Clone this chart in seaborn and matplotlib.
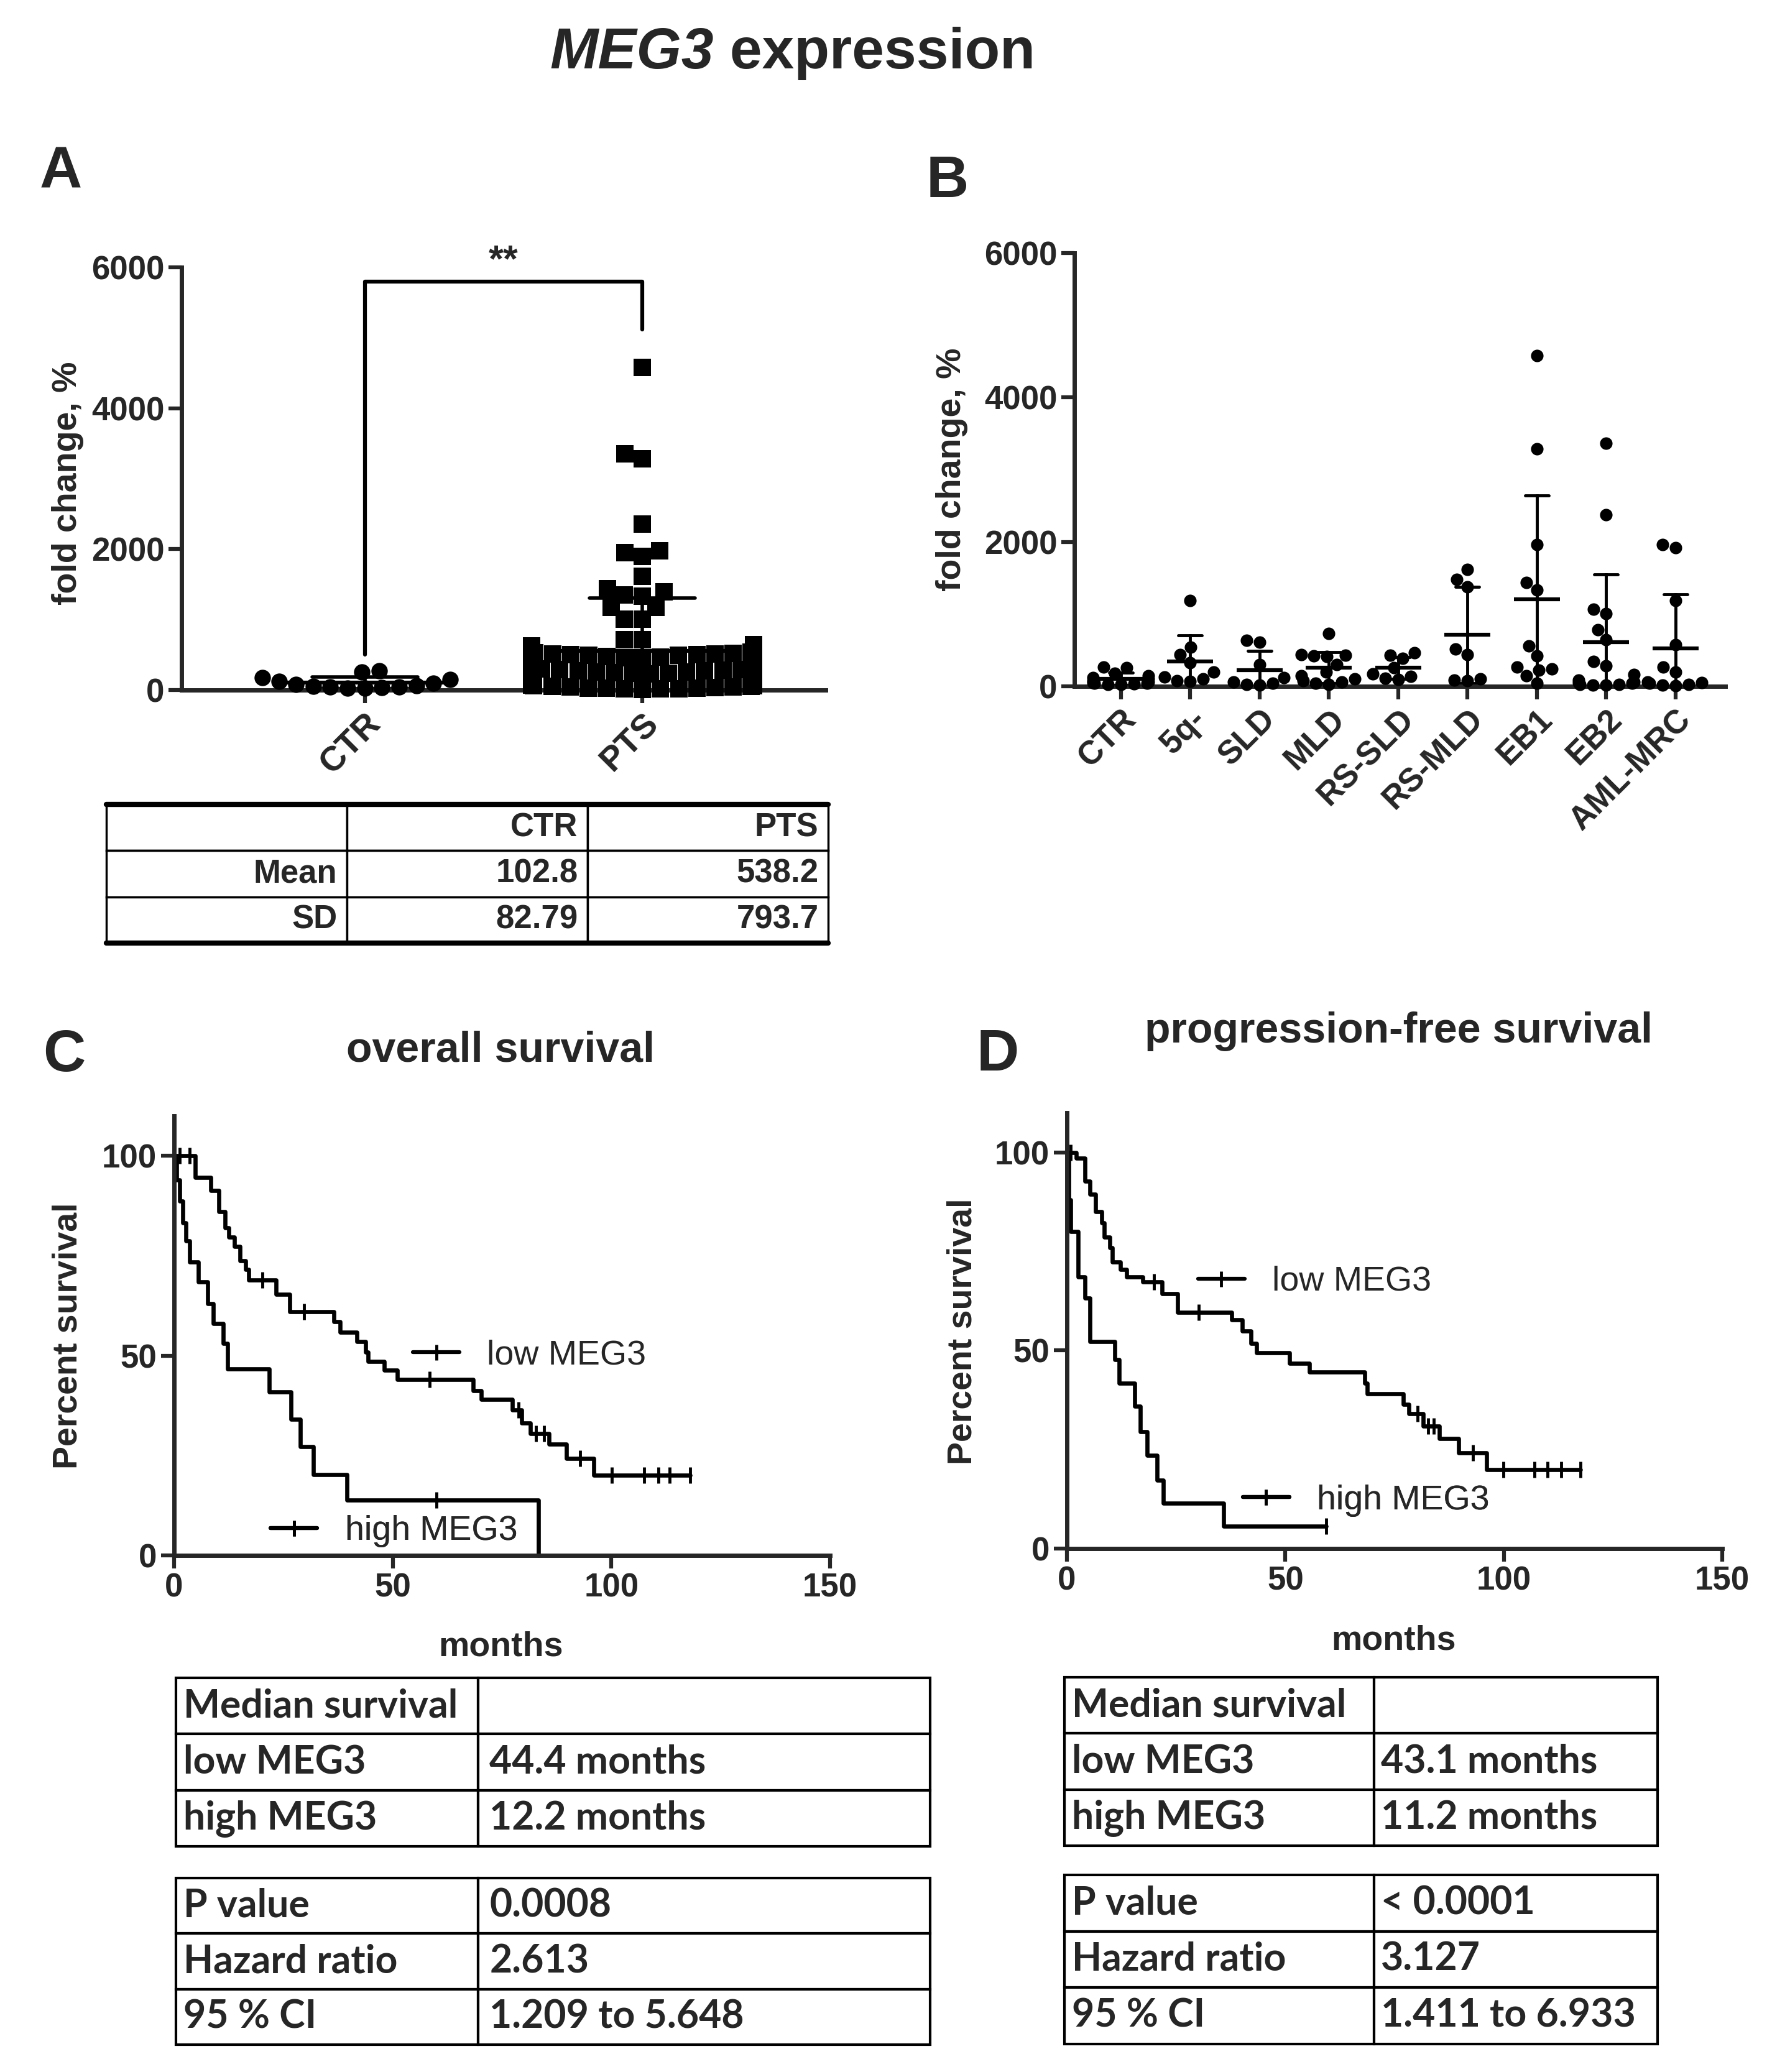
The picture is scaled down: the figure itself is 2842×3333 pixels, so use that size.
import warnings
import numpy as np
import pandas as pd
import matplotlib
matplotlib.use("Agg")
import matplotlib.pyplot as plt
from matplotlib.lines import Line2D
from matplotlib.text import Annotation
import seaborn as sns

warnings.filterwarnings("ignore")

# ---------------- panel A: CTR vs PTS ----------------
a_groups = ["CTR", "PTS"]
ctr_values = [270, 255, 180, 150, 120, 100, 80, 60, 50, 40, 30, 25, 45, 35]
pts_high = [4580, 3350, 3280, 2360, 1975, 1947, 1895, 1614, 1439, 1395, 1351, 1333,
            1175, 1175, 1009, 1009, 719, 719]
pts_mid = [640, 630, 615, 600, 590, 580, 570, 560, 550, 545, 540, 530, 520, 515, 510,
           505, 500, 495, 490, 480, 470, 460, 450, 430, 410]
pts_low = [330, 320, 310, 300, 295, 290, 280, 275, 270, 260, 255, 250, 240, 235, 230,
           220, 215, 210, 200, 195, 190, 180, 175, 170, 160, 155, 150, 140, 135, 130,
           120, 115, 110, 100, 95, 90, 85, 80, 75, 70, 65, 60, 55, 50, 45, 40, 35, 30,
           28, 25, 22, 20, 15, 10]
bracket_x = [0, 0, 1, 1]
bracket_y = [500, 5800, 5800, 5120]
a_table = [["", "CTR", "PTS"],
           ["Mean", "102.8", "538.2"],
           ["SD", "82.79", "793.7"]]

# ---------------- panel B: subgroups ----------------
b_groups = ["CTR", "5q-", "SLD", "MLD", "RS-SLD", "RS-MLD", "EB1", "EB2", "AML-MRC"]
b_5q = [1191, 540, 440, 330, 200, 130, 100, 70, 75]
b_sld = [640, 610, 300, 120, 60, 40, 30, 20]
b_mld = [730, 440, 430, 420, 410, 300, 200, 150, 100, 80, 60, 40, 30]
b_rs_sld = [465, 430, 390, 260, 170, 140, 110, 95]
b_rs_mld = [1615, 1480, 1380, 520, 440, 100, 90, 80]
b_eb1 = [4580, 3290, 1966, 1440, 1330, 560, 420, 270, 240, 220, 40, 150]
b_eb2 = [3362, 2376, 1065, 1007, 781, 649, 342, 283, 160, 90, 60, 50, 40, 30, 25, 20, 15]
b_aml = [1966, 1923, 1191, 580, 270, 200, 60, 50, 40, 30, 20, 10]

# ---------------- panel C: overall survival ----------------
os_low_time = [0, 4.8, 8.4, 10.2, 11.6, 12.5, 13.8, 15.1, 16.3, 17.0, 23.3, 26.5, 36.5,
               38.0, 41.8, 43.8, 44.4, 48.0, 51.0, 68.4, 70.2, 77.3, 79.5, 81.4, 85.8,
               89.7, 96.0, 118.0]
os_low_surv = [100, 94.6, 91.4, 86.0, 82.0, 79.7, 77.4, 73.8, 71.6, 68.9, 65.3, 61.0, 58.5,
               55.8, 53.5, 50.8, 48.6, 46.3, 44.0, 41.3, 39.1, 36.4, 33.2, 30.5, 27.8,
               24.2, 20.1, 20.1]
os_low_cens = [1.3, 3.6, 20.2, 29.7, 58.4, 78.8, 82.7, 84.6, 92.9, 100.1, 107.5, 110.7,
               113.3, 118.0]
os_high_time = [0, 0.6, 1.3, 2.0, 2.7, 3.6, 5.5, 7.7, 8.9, 11.2, 12.2, 21.7, 26.8, 28.8,
                31.9, 39.5, 83.3]
os_high_surv = [100, 94.0, 88.7, 83.3, 78.8, 73.4, 68.4, 63.0, 58.0, 53.0, 46.7, 40.9,
                34.1, 27.3, 20.3, 13.8, 0]
os_high_cens = [60.0]
os_table1 = [["Median survival", ""], ["low MEG3", "44.4 months"], ["high MEG3", "12.2 months"]]
os_table2 = [["P value", "0.0008"], ["Hazard ratio", "2.613"], ["95 % CI", "1.209 to 5.648"]]

# ---------------- panel D: progression-free survival ----------------
pfs_low_time = [0, 2.2, 4.1, 5.3, 6.6, 7.9, 8.5, 9.8, 10.4, 12.3, 13.6, 17.4, 21.8, 25.3,
                37.7, 40.2, 42.1, 43.4, 51.0, 55.5, 68.1, 68.8, 77.0, 78.3, 81.5, 85.3,
                89.7, 96.1, 117.6]
pfs_low_surv = [100, 98.6, 92.7, 89.5, 85.0, 82.3, 78.6, 75.9, 72.3, 70.4, 68.6, 67.3, 64.3,
                59.7, 57.7, 55.0, 51.8, 49.5, 46.8, 44.5, 41.8, 39.1, 36.4, 34.1, 30.9,
                27.7, 24.1, 20.0, 20.0]
pfs_low_cens = [0.9, 19.9, 30.1, 80.2, 82.7, 84.0, 92.9, 99.9, 107.0, 110.0, 113.2, 117.6]
pfs_high_time = [0, 0.4, 0.9, 2.5, 4.1, 5.3, 11.0, 11.9, 15.5, 16.8, 18.3, 20.6, 22.1, 35.8,
                 59.3]
pfs_high_surv = [100, 88.0, 80.0, 68.6, 63.2, 52.3, 47.7, 41.8, 35.9, 29.5, 23.6, 17.3,
                 11.4, 5.7, 5.7]
pfs_high_cens = [59.3]
pfs_table1 = [["Median survival", ""], ["low MEG3", "43.1 months"], ["high MEG3", "11.2 months"]]
pfs_table2 = [["P value", "< 0.0001"], ["Hazard ratio", "3.127"], ["95 % CI", "1.411 to 6.933"]]

# ---------------- style ----------------
sns.set_style("ticks")
plt.rcParams["font.family"] = ["Liberation Sans", "DejaVu Sans"]
plt.rcParams["font.weight"] = "bold"
plt.rcParams["axes.labelweight"] = "bold"

W, H = 2842, 3333
fig = plt.figure(figsize=(W / 100, H / 100), dpi=100)


def px_rect(x0, y0, x1, y1):
    # pixel box (top-left origin) -> figure fraction rect
    return [x0 / W, 1 - y1 / H, (x1 - x0) / W, (y1 - y0) / H]


def style_axis(ax, tick_size=38):
    sns.despine(ax=ax)
    for s in ["left", "bottom"]:
        ax.spines[s].set_linewidth(5)
    ax.tick_params(width=4.5, length=15, labelsize=tick_size, pad=5)


# ---------------- A ----------------
dfA = pd.DataFrame({"group": ["CTR"] * len(ctr_values) + ["PTS"] * (len(pts_high) + len(pts_mid) + len(pts_low)),
                    "value": ctr_values + pts_high + pts_mid + pts_low})
axA = fig.add_axes(px_rect(292, 430, 1328, 1110))
sns.swarmplot(data=dfA[dfA.group == "CTR"], x="group", y="value", order=a_groups, marker="o",
              size=19, color="black", clip_on=False, ax=axA)
sns.swarmplot(data=dfA[dfA.group == "PTS"], x="group", y="value", order=a_groups, marker="s",
              size=20, color="black", clip_on=False, ax=axA)
sns.pointplot(data=dfA, x="group", y="value", order=a_groups, errorbar="sd", color="black",
              linestyle="none", marker="_", markersize=210, markeredgewidth=4.5, capsize=0.38,
              err_kws={"linewidth": 4}, ax=axA)
axA.plot(bracket_x, bracket_y, color="black", linewidth=4.5)
axA.text(0.5, 5830, "**", ha="center", va="bottom", fontsize=44)
axA.set_xlim(-0.66, 1.66)
axA.set_ylim(0, 6000)
axA.set_yticks([0, 2000, 4000, 6000])
axA.set_xlabel("")
axA.set_ylabel("fold change, %", fontsize=40)
axA.yaxis.set_label_coords(-0.152, 0.49)
style_axis(axA)
axA.tick_params(axis="x", labelsize=40)
plt.setp(axA.get_xticklabels(), rotation=45, ha="right", rotation_mode="anchor")

# ---------------- B ----------------
b_lists = [ctr_values, b_5q, b_sld, b_mld, b_rs_sld, b_rs_mld, b_eb1, b_eb2, b_aml]
dfB = pd.DataFrame({"group": np.repeat(b_groups, [len(v) for v in b_lists]),
                    "value": np.concatenate(b_lists)})
axB = fig.add_axes(px_rect(1728, 407, 2775, 1104))
sns.swarmplot(data=dfB, x="group", y="value", order=b_groups, marker="o", size=14.5,
              color="black", clip_on=False, ax=axB)
sns.pointplot(data=dfB, x="group", y="value", order=b_groups, errorbar="sd", color="black",
              linestyle="none", marker="_", markersize=53, markeredgewidth=4.5, capsize=0.34,
              err_kws={"linewidth": 3.5}, ax=axB)
axB.set_xlim(-0.67, 8.72)
axB.set_ylim(0, 6000)
axB.set_yticks([0, 2000, 4000, 6000])
axB.set_xlabel("")
axB.set_ylabel("fold change, %", fontsize=40)
axB.yaxis.set_label_coords(-0.163, 0.50)
style_axis(axB)
plt.setp(axB.get_xticklabels(), rotation=45, ha="right", rotation_mode="anchor")


# ---------------- C / D ----------------
def censor_y(times, surv, cens):
    idx = np.searchsorted(times, cens, side="right") - 1
    return np.asarray(surv)[idx]


def km_panel(rect, curves, legends):
    ax = fig.add_axes(rect)
    for t, s, c in curves:
        sns.lineplot(x=t, y=s, drawstyle="steps-post", estimator=None, color="black",
                     linewidth=4.8, clip_on=False, ax=ax)
        sns.scatterplot(x=c, y=censor_y(t, s, c), marker="|", s=330, linewidth=3.5,
                        color="black", clip_on=False, zorder=3, ax=ax)
    ax.set_xlim(0, 150)
    ax.set_ylim(0, 110)
    ax.set_xticks([0, 50, 100, 150])
    ax.set_yticks([0, 50, 100])
    ax.set_xlabel("months", fontsize=40)
    ax.set_ylabel("Percent survival", fontsize=40)
    style_axis(ax)
    for label, (lx, ly) in legends:
        h = Line2D([], [], color="black", linewidth=4.5, marker="|", markersize=18,
                   markeredgewidth=3.5)
        leg = ax.legend([h], [label], loc="center left", bbox_to_anchor=(lx, ly),
                        frameon=False, borderpad=0, borderaxespad=0, handlelength=1.35,
                        handletextpad=0.8, prop={"size": 40, "weight": "normal"})
        ax.add_artist(leg)
    return ax


axC = km_panel(px_rect(280, 1795, 1335, 2502),
               [(os_low_time, os_low_surv, os_low_cens), (os_high_time, os_high_surv, os_high_cens)],
               [("low MEG3", (0.364, 0.455)), ("high MEG3", (0.147, 0.055))])
axC.yaxis.set_label_coords(-0.137, 0.5)
axC.xaxis.set_label_coords(0.498, -0.172)

axD = km_panel(px_rect(1716, 1790, 2770, 2491),
               [(pfs_low_time, pfs_low_surv, pfs_low_cens), (pfs_high_time, pfs_high_surv, pfs_high_cens)],
               [("low MEG3", (0.200, 0.612)), ("high MEG3", (0.2685, 0.110))])
axD.yaxis.set_label_coords(-0.134, 0.498)
axD.xaxis.set_label_coords(0.499, -0.175)


# ---------------- tables ----------------
def draw_table(rect, rows, widths, loc, family, size, pad, lw=2.5, thick=None):
    tax = fig.add_axes(rect)
    tax.axis("off")
    tb = tax.table(cellText=rows, colWidths=widths, cellLoc=loc, bbox=[0, 0, 1, 1])
    tb.auto_set_font_size(False)
    for cell in tb.get_celld().values():
        cell.set_linewidth(lw)
        cell.PAD = pad
        cell.get_text().set_fontsize(size)
        cell.get_text().set_fontweight("bold")
        cell.get_text().set_fontfamily(family)
    if thick:
        tax.axhline(1, color="black", linewidth=thick, clip_on=False)
        tax.axhline(0, color="black", linewidth=thick, clip_on=False)
    return tax


draw_table(px_rect(171, 1294, 1332, 1517), a_table, [1 / 3] * 3, "right",
           ["Liberation Sans", "DejaVu Sans"], 38, 0.04, lw=2.5, thick=6)
cal = ["Lato", "Open Sans", "DejaVu Sans"]
draw_table(px_rect(283, 2699, 1496, 2970), os_table1, [0.4007, 0.5993], "left", cal, 45, 0.025, lw=3)
draw_table(px_rect(283, 3021, 1496, 3289), os_table2, [0.4007, 0.5993], "left", cal, 45, 0.025, lw=3)
draw_table(px_rect(1712, 2698, 2666, 2969), pfs_table1, [0.522, 0.478], "left", cal, 45, 0.025, lw=3)
draw_table(px_rect(1712, 3016, 2666, 3288), pfs_table2, [0.522, 0.478], "left", cal, 45, 0.025, lw=3)

# ---------------- titles & panel letters ----------------
t1 = fig.text(884 / W, 1 - 110 / H, "MEG3", fontsize=67, fontweight="bold", style="italic",
              ha="left", va="baseline")
fig.add_artist(Annotation(" expression", xy=(1, 0), xycoords=t1, ha="left", va="bottom",
                          fontsize=67, fontweight="bold"))
for letter, lx, ly in [("A", 64, 303), ("B", 1490, 317), ("C", 69, 1723), ("D", 1571, 1722)]:
    fig.text(lx / W, 1 - ly / H, letter, fontsize=68, fontweight="bold", ha="left", va="baseline")
fig.text(805 / W, 1 - 1707 / H, "overall survival", fontsize=49, fontweight="bold",
         ha="center", va="baseline")
fig.text(2250 / W, 1 - 1677 / H, "progression-free survival", fontsize=49, fontweight="bold",
         ha="center", va="baseline")

fig.savefig("out.png", dpi=100)
